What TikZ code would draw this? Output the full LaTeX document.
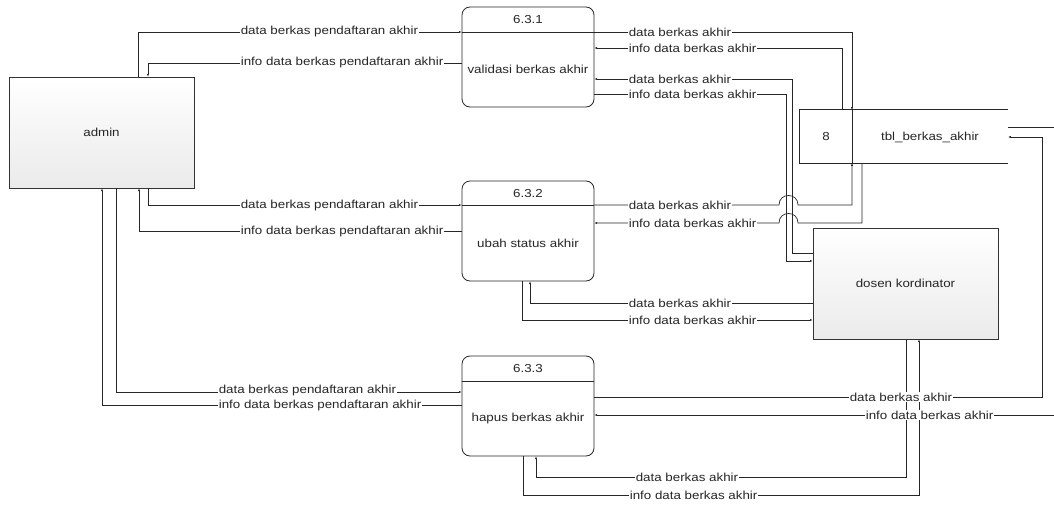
\documentclass[tikz,border=0pt]{standalone}
\usepackage{fontspec}
\setmainfont{Liberation Sans}[FakeStretch=1.15]
\usetikzlibrary{arrows.meta}
\begin{document}
\begin{tikzpicture}[x=1pt,y=-1pt,
  base/.style={font=\fontsize{11.6}{13}\selectfont, text=black!85},
  flow/.style={draw=black!85, line width=0.7pt},
  arr/.style={-{Latex[length=2.6pt,width=2.2pt]}},
  lbl/.style={base, fill=white, inner sep=0.6pt, anchor=west},
  ext/.style={base, draw=black!80, line width=0.8pt, top color=white, bottom color=black!8,
              minimum width=185pt, minimum height=111pt, inner sep=0pt},
  proc/.style={draw=black!85, line width=0.8pt, rounded corners=8pt, fill=white,
               minimum width=132pt, minimum height=100pt, inner sep=0pt},
  ptxt/.style={base, inner sep=0pt}]
\useasboundingbox (0,0) rectangle (1054,506);

% entities
\node[ext] (admin) at (101.5,132.5) {admin};
\node[ext] (dosen) at (905.5,283.5) {dosen kordinator};

% processes
\node[proc] (p1) at (528,57) {};
\node[proc] (p2) at (528,231) {};
\node[proc] (p3) at (528,406) {};
\draw[flow] (p1.west |- 0,32) -- (p1.east |- 0,32);
\draw[flow] (p2.west |- 0,205) -- (p2.east |- 0,205);
\draw[flow] (p3.west |- 0,381) -- (p3.east |- 0,381);
\node[ptxt] (p1t) at ([yshift=-12.5pt]p1.north) {6.3.1};
\node[ptxt] (p1b) at ([yshift=-12.5pt]p1.center) {validasi berkas akhir};
\node[ptxt] (p2t) at ([yshift=-12.5pt]p2.north) {6.3.2};
\node[ptxt] (p2b) at ([yshift=-12.5pt]p2.center) {ubah status akhir};
\node[ptxt] (p3t) at ([yshift=-12.5pt]p3.north) {6.3.3};
\node[ptxt] (p3b) at ([yshift=-12.5pt]p3.center) {hapus berkas akhir};

% data store
\node[minimum width=208pt, minimum height=53pt, inner sep=0pt] (tbl) at (904,136.5) {};
\draw[flow] (tbl.north east) -- (tbl.north west) -- (tbl.south west) -- (tbl.south east);
\draw[flow] (tbl.north -| 852,0) -- (tbl.south -| 852,0);
\node[ptxt] (tnum) at (826,137) {8};
\node[ptxt] (tname) at (930,137) {tbl\_berkas\_akhir};

% left flows
\draw[flow,arr] (admin.north -| 138,0) |- (p1.west |- 0,32);
\draw[flow,arr] (p1.west |- 0,63) -| (admin.north -| 148,0);
\draw[flow,arr] (admin.south -| 148,0) |- (p2.west |- 0,205);
\draw[flow,arr] (p2.west |- 0,231) -| (admin.south -| 139,0);
\draw[flow,arr] (admin.south -| 116,0) |- (p3.west |- 0,392);
\draw[flow,arr] (p3.west |- 0,405) -| (admin.south -| 102,0);

% top right flows
\draw[flow,arr] (p1.east |- 0,32) -| (tbl.north -| 852,0);
\draw[flow,arr] (tbl.north -| 842,0) |- (p1.east |- 0,48);
\draw[flow,arr] (dosen.west |- 0,253) -| (792,79) -- (p1.east |- 0,79);
\draw[flow,arr] (p1.east |- 0,94) -| (786,261) -- (dosen.west |- 0,261);

% middle flows
\draw[flow,arr] (p2.east |- 0,205) -- (779,205) .. controls (779,192.3) and (798,192.3) .. (798,205) -| (tbl.south -| 852,0);
\draw[flow,arr] (tbl.south -| 862,0) |- (798,223) .. controls (798,210.3) and (779,210.3) .. (779,223) -- (p2.east |- 0,223);
\draw[flow,arr] (dosen.west |- 0,303) -| (p2.south -| 530,0);
\draw[flow,arr] (p2.south -| 522,0) |- (dosen.west |- 0,320);

% bottom flows
\coordinate (edgeB) at (1054,415);
\coordinate (edgeT) at (1054,127);
\draw[flow,arr] (p3.east |- 0,397) -| (1042,137) -- (tbl.east |- 0,137);
\draw[flow,arr] (edgeB) -- (p3.east |- edgeB);
\draw[flow] (tbl.east |- edgeT) -- (edgeT);
\draw[flow,arr] (dosen.south -| 906,0) |- (536,477) -- (p3.south -| 536,0);
\draw[flow,arr] (p3.south -| 523,0) |- (919,495) -- (dosen.south -| 919,0);

% labels
\node[lbl] (l1) at (240,32) {data berkas pendaftaran akhir};
\node[lbl] (l2) at (240,63) {info data berkas pendaftaran akhir};
\node[lbl] (l3) at (240,205) {data berkas pendaftaran akhir};
\node[lbl] (l4) at (240,231) {info data berkas pendaftaran akhir};
\node[lbl] (l5) at (218,390) {data berkas pendaftaran akhir};
\node[lbl] (l6) at (218,405) {info data berkas pendaftaran akhir};
\node[lbl] (l7) at (628,32) {data berkas akhir};
\node[lbl] (l8) at (628,48) {info data berkas akhir};
\node[lbl] (l9) at (628,79) {data berkas akhir};
\node[lbl] (l10) at (628,94) {info data berkas akhir};
\node[lbl] (l11) at (628,205) {data berkas akhir};
\node[lbl] (l12) at (628,223) {info data berkas akhir};
\node[lbl] (l13) at (628,303) {data berkas akhir};
\node[lbl] (l14) at (628,320) {info data berkas akhir};
\node[lbl] (l15) at (849,397) {data berkas akhir};
\node[lbl] (l16) at (865,415) {info data berkas akhir};
\node[lbl] (l17) at (635,477) {data berkas akhir};
\node[lbl] (l18) at (629,495) {info data berkas akhir};
\end{tikzpicture}
\end{document}
